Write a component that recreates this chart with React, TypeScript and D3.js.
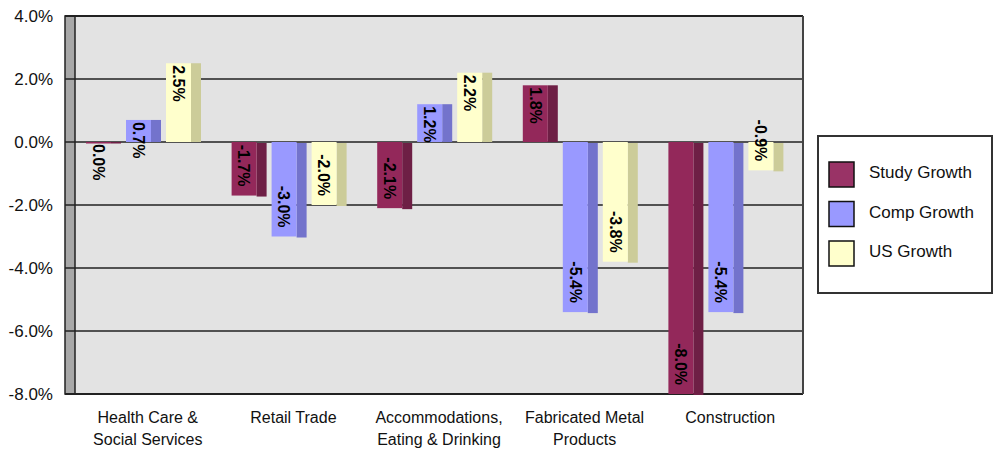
import React from 'react';
import * as d3 from 'd3';

const categories = [
  'Health Care & Social Services',
  'Retail Trade',
  'Accommodations, Eating & Drinking',
  'Fabricated Metal Products',
  'Construction',
];
const categoryLines = [
  ['Health Care &', 'Social Services'],
  ['Retail Trade'],
  ['Accommodations,', 'Eating & Drinking'],
  ['Fabricated Metal', 'Products'],
  ['Construction'],
];
const seriesNames = ['Study Growth', 'Comp Growth', 'US Growth'];
const studyGrowth = [0.0, -1.7, -2.1, 1.8, -8.0];
const compGrowth = [0.7, -3.0, 1.2, -5.4, -5.4];
const usGrowth = [2.5, -2.0, 2.2, -3.8, -0.9];
const yTicks = [4, 2, 0, -2, -4, -6, -8];

const fronts = ['#93285A', '#9999FF', '#FFFFCC'];
const sides = ['#6E1F45', '#7373CC', '#CCCC99'];
const swatches = ['#993366', '#9999FF', '#FFFFCC'];

const FONT = 'Arial, "Liberation Sans", sans-serif';

// d3 uses a unicode minus; the original shows a plain hyphen
const pct = (v: number) => d3.format('.1f')(v).replace('\u2212', '-') + '%';

const App: React.FC = () => {
  const width = 995;
  const height = 453;
  const plot = { left: 75, right: 803, top: 16, bottom: 394 };
  const wallW = 10;
  const depth = 10;

  const y = d3.scaleLinear().domain([-8, 4]).range([plot.bottom, plot.top]);
  const x0 = d3.scaleBand().domain(categories).range([plot.left, plot.right]);
  const x1 = d3.scaleBand().domain(seriesNames).range([11, 116]).paddingInner(0.375);

  const allSeries = [studyGrowth, compGrowth, usGrowth];

  return (
    <svg width={width} height={height} style={{ position: 'absolute', left: 0, top: 0, background: '#fff' }}>
      {/* plot background */}
      <rect x={plot.left} y={plot.top} width={plot.right - plot.left} height={plot.bottom - plot.top} fill="#E3E3E3" />
      {/* left wall */}
      <rect x={plot.left - wallW} y={plot.top} width={wallW} height={plot.bottom - plot.top} fill="#A8A8A8" stroke="#222" strokeWidth={1.5} />

      {/* gridlines */}
      {yTicks.map(t => (
        <line key={t} x1={plot.left - wallW} x2={plot.right} y1={y(t)} y2={y(t)} stroke="#222" strokeWidth={t === 4 || t === -8 ? 2 : 1.3} />
      ))}
      <line x1={plot.right} x2={plot.right} y1={plot.top} y2={plot.bottom} stroke="#444" strokeWidth={2} />

      {/* y labels */}
      {yTicks.map(t => (
        <text key={t} x={53} y={y(t)} dy="0.35em" textAnchor="end" fontFamily={FONT} fontSize={17} fill="#111">
          {pct(t)}
        </text>
      ))}

      {/* bars */}
      {categories.map((c, ci) => (
        <g key={c} transform={`translate(${x0(c)},0)`}>
          {seriesNames.map((s, si) => {
            const v = allSeries[si][ci];
            const bx = x1(s)!;
            const bw = x1.bandwidth();
            const y0 = y(0);
            const yv = y(v);
            const top = Math.min(y0, yv);
            const h = Math.max(1.5, Math.abs(yv - y0));
            return (
              <g key={s}>
                <rect x={bx + bw} y={top + (v < 0 ? 1 : 0)} width={depth} height={h} fill={sides[si]} />
                <rect x={bx} y={top} width={bw} height={h} fill={fronts[si]} />
              </g>
            );
          })}
        </g>
      ))}

      {/* value labels */}
      {categories.map((c, ci) => (
        <g key={c} transform={`translate(${x0(c)},0)`}>
          {seriesNames.map((s, si) => {
            const v = allSeries[si][ci];
            const cx = x1(s)! + x1.bandwidth() / 2;
            const neg = v < 0;
            const ty = neg ? y(v) - 9 : y(v) + 2;
            return (
              <text
                key={s}
                transform={`translate(${cx},${ty}) rotate(90)`}
                textAnchor={neg ? 'end' : 'start'}
                dy="0.36em"
                fontFamily={FONT}
                fontSize={16}
                fontWeight="bold"
                fill="#000"
              >
                {pct(v)}
              </text>
            );
          })}
        </g>
      ))}

      {/* category labels */}
      {categories.map((c, ci) => (
        <text key={c} textAnchor="middle" fontFamily={FONT} fontSize={16} fill="#111">
          {categoryLines[ci].map((ln, li) => (
            <tspan key={li} x={x0(c)! + x0.bandwidth() / 2} y={423 + li * 22}>
              {ln}
            </tspan>
          ))}
        </text>
      ))}

      {/* legend */}
      <rect x={818} y={136} width={174} height={157} fill="#fff" stroke="#333" strokeWidth={2} />
      {seriesNames.map((s, i) => (
        <g key={s} transform={`translate(829,${162 + i * 39.5})`}>
          <rect width={25} height={25} fill={swatches[i]} stroke="#111" strokeWidth={1.5} />
          <text x={40} y={10.5} dy="0.35em" fontFamily={FONT} fontSize={17} fill="#111">
            {s}
          </text>
        </g>
      ))}
    </svg>
  );
};

export default App;
